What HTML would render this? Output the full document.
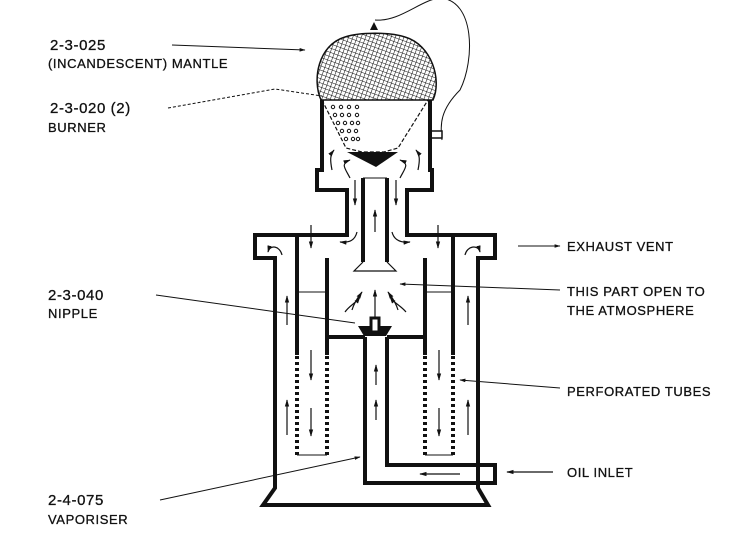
<!DOCTYPE html>
<html><head><style>
html,body{margin:0;padding:0;background:#fff;}
svg{display:block}
text{font-family:"Liberation Sans",sans-serif;fill:#111;font-size:13px;letter-spacing:0.6px;stroke:#111;stroke-width:0.3px}
.n{font-size:15px}
</style></head><body>
<svg width="732" height="541" viewBox="0 0 732 541" xmlns="http://www.w3.org/2000/svg">
<defs>
<pattern id="mesh" width="4" height="4" patternUnits="userSpaceOnUse" patternTransform="rotate(20)">
<path d="M0 0H4M0 0V4" stroke="#111" stroke-width="1.1"/>
</pattern>
<marker id="ah" viewBox="0 0 10 10" refX="9" refY="5" markerWidth="6" markerHeight="6" orient="auto"><path d="M0 2L10 5L0 8z" fill="#111"/></marker>
</defs>
<g stroke="#111" fill="none" stroke-width="1">
<path d="M172 45L305 50" marker-end="url(#ah)"/>
<path d="M168 108L275 89L322 96" stroke-dasharray="3 2"/>
<path d="M156 295L355 323"/>
<path d="M160 500L360 457" marker-end="url(#ah)"/>
<path d="M518 246H560" marker-end="url(#ah)"/>
<path d="M560 290L400 284" marker-end="url(#ah)"/>
<path d="M560 388L460 380" marker-end="url(#ah)"/>
<path d="M375 20C400 22 420 0 440 -2C475 0 475 60 460 90C440 110 440 125 442 140"/>
</g>
<path d="M321 100C312 80 318 45 345 37C360 32 390 32 405 37C432 45 442 80 433 100Z" fill="url(#mesh)" stroke="#111" stroke-width="1.5"/>
<path d="M370 30l4-8 4 8z" fill="#111"/>
<path d="M322 100L346 148L362 152L384 152L398 148L428 100" fill="none" stroke="#111" stroke-width="1.2" stroke-dasharray="4 2"/>
<g fill="none" stroke="#111" stroke-width="1">
<circle cx="333" cy="107" r="1.7"/><circle cx="341" cy="107" r="1.7"/><circle cx="349" cy="107" r="1.7"/><circle cx="357" cy="107" r="1.7"/>
<circle cx="335" cy="115" r="1.7"/><circle cx="342" cy="115" r="1.7"/><circle cx="349" cy="115" r="1.7"/><circle cx="357" cy="115" r="1.7"/>
<circle cx="338" cy="123" r="1.7"/><circle cx="345" cy="123" r="1.7"/><circle cx="352" cy="123" r="1.7"/><circle cx="358" cy="123" r="1.7"/>
<circle cx="342" cy="131" r="1.7"/><circle cx="349" cy="131" r="1.7"/><circle cx="356" cy="131" r="1.7"/>
<circle cx="346" cy="139" r="1.7"/><circle cx="353" cy="139" r="1.7"/><circle cx="358" cy="139" r="1.7"/>
</g>
<path d="M347 152H398L376 167Z" fill="#111"/>
<path d="M430 131h12v7h-12z" fill="#fff" stroke="#111" stroke-width="1.5"/>
<g stroke="#111" stroke-width="4" fill="none" stroke-linejoin="miter">
<path d="M322 100V170H317V190H347V235H255V258H275V488L263 505H488L478 488V258H495V235H407V190H432V170H430V100"/>
<path d="M297 237V455M327 258V455M425 258V455M453 237V455"/>
<path d="M327 258V337H365M387 337H425V258"/>
<path d="M363 178V262M387 178V262"/>
<path d="M365 337V483H495V465H387V337"/>
</g>
<rect x="294" y="355" width="6" height="102" fill="#fff"/><rect x="324" y="355" width="6" height="102" fill="#fff"/>
<rect x="422" y="355" width="6" height="102" fill="#fff"/><rect x="450" y="355" width="6" height="102" fill="#fff"/>
<g stroke="#111" stroke-width="4" stroke-dasharray="3 3" fill="none">
<path d="M297 356V456M327 356V456M425 356V456M453 356V456"/>
</g>
<g stroke="#111" stroke-width="1" fill="none">
<path d="M297 455H327M425 455H453M297 292H327M425 292H453"/>
<path d="M363 178H387"/>
</g>
<path d="M363 262L354 271H396L387 262" fill="#fff" stroke="#111" stroke-width="1.2"/>
<path d="M358 326H392L386 336H364Z" fill="#111"/>
<rect x="371" y="318" width="8" height="14" fill="#fff" stroke="#111" stroke-width="3"/>
<g stroke="#111" stroke-width="1.2" fill="none" marker-end="url(#ah)">
<path d="M375 232V210"/><path d="M375 318V290"/><path d="M376 420V400"/><path d="M376 385V365"/>
<path d="M355 180V205"/><path d="M396 180V205"/>
<path d="M311 225V248"/><path d="M438 225V248"/>
<path d="M287 325V296"/><path d="M287 435V400"/><path d="M468 325V296"/><path d="M468 435V400"/>
<path d="M311 350V380"/><path d="M311 408V436"/><path d="M439 350V380"/><path d="M439 408V436"/>
<path d="M460 474H420"/><path d="M553 472H507"/>
<path d="M282 255C280 246 270 244 268 252"/><path d="M465 255C467 246 478 244 480 252"/>
<path d="M357 232C355 240 350 243 340 242"/><path d="M392 232C394 240 400 243 410 242"/>
<path d="M332 170C330 160 330 155 334 150"/><path d="M418 170C420 160 420 155 416 150"/>
<path d="M350 178C345 168 340 164 350 160"/><path d="M400 178C405 168 410 164 400 160"/>
<path d="M352 310C355 300 360 295 362 292"/><path d="M398 310C395 300 390 295 388 292"/>
<path d="M345 312C350 305 355 304 360 297"/><path d="M406 312C400 305 395 304 390 297"/>
</g>
<text x="50" y="50" class="n">2-3-025</text>
<text x="48" y="68">(INCANDESCENT) MANTLE</text>
<text x="50" y="113" class="n">2-3-020 (2)</text>
<text x="48" y="132">BURNER</text>
<text x="48" y="300" class="n">2-3-040</text>
<text x="48" y="318">NIPPLE</text>
<text x="48" y="505" class="n">2-4-075</text>
<text x="48" y="524">VAPORISER</text>
<text x="567" y="251">EXHAUST VENT</text>
<text x="567" y="296">THIS PART OPEN TO</text>
<text x="567" y="315">THE ATMOSPHERE</text>
<text x="567" y="396">PERFORATED TUBES</text>
<text x="567" y="477">OIL INLET</text>
</svg>
</body></html>
